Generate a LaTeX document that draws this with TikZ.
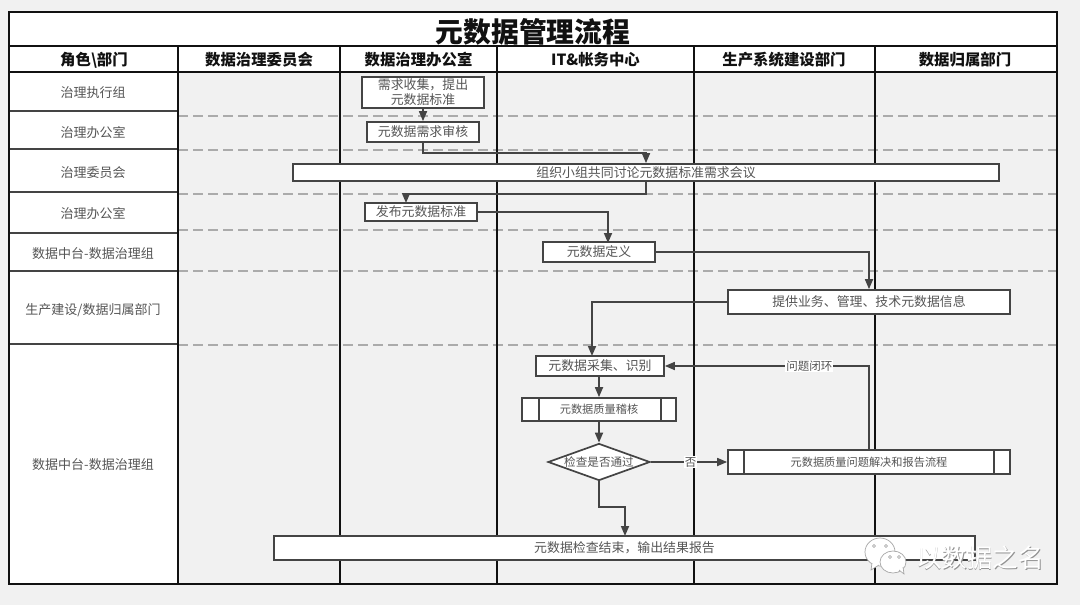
\documentclass[tikz,border=0pt]{standalone}
\usepackage{fontspec}
\setmainfont{Noto Sans CJK SC}
\usetikzlibrary{arrows.meta,shapes.geometric,calc}
\definecolor{pagebg}{HTML}{F1F1F1}
\definecolor{ink}{HTML}{111111}
\definecolor{boxline}{HTML}{444444}
\definecolor{txt}{HTML}{555555}
\definecolor{dashc}{HTML}{ABABAB}
\tikzset{
  x=1pt,y=-1pt,
  grid/.style={draw=ink,line width=1.6pt},
  laneline/.style={draw=ink,line width=2.2pt},
  rowline/.style={draw=boxline,line width=1.7pt},
  sepdash/.style={draw=dashc,line width=1.7pt,dash pattern=on 10pt off 5pt},
  head/.style={font=\fontsize{15.4}{18}\selectfont\bfseries,text=ink,inner sep=0pt},
  rolelbl/.style={font=\fontsize{13}{16}\selectfont,text=txt,inner sep=0pt},
  flowbox/.style={draw=boxline,fill=white,line width=1.7pt,inner sep=0pt,align=center,
     font=\fontsize{12.9}{15}\selectfont,text=txt},
  subbox/.style={flowbox,font=\fontsize{11.2}{14}\selectfont},
  decision/.style={flowbox,diamond,aspect=2.75,font=\fontsize{11.6}{14}\selectfont},
  conn/.style={draw=boxline,line width=1.7pt,-{Triangle[length=10pt,width=8pt]}},
  edgelbl/.style={fill=white,inner sep=1pt,font=\fontsize{11.5}{14}\selectfont,text=txt},
  innerbar/.style={draw=boxline,line width=1.7pt},
}
\begin{document}
\begin{tikzpicture}
\useasboundingbox (0,0) rectangle (1080,605);
\fill[pagebg] (0,0) rectangle (1080,605);
% title and header fills
\fill[white] (9,12) rectangle (1057,72);
\fill[white] (9,72) rectangle (178,584);
% role rows
\foreach \yy in {111,149,192,233,271,344} \draw[rowline] (9,\yy) -- (178,\yy);
% dashed row separators
\foreach \yy in {116,150,194,230,271,345} \draw[sepdash] (178,\yy) -- (1057,\yy);
% lanes
\foreach \xx in {178,340,497,694,875} \draw[laneline] (\xx,46) -- (\xx,584);
\draw[grid] (9,46) -- (1057,46);
\draw[grid] (9,72) -- (1057,72);
\draw[grid] (9,12) rectangle (1057,584);
% title
\node[inner sep=0pt,text=ink,font=\fontsize{27.8}{32}\selectfont\bfseries] (title) at (533,31.5) {元数据管理流程};
% header
\node[head] (h0) at (94,60) {角色\textbackslash 部门};
\node[head] (h1) at (259,60) {数据治理委员会};
\node[head] (h2) at (418.5,60) {数据治理办公室};
\node[head] (h3) at (595.5,60) {IT\&帐务中心};
\node[head] (h4) at (784,60) {生产系统建设部门};
\node[head] (h5) at (965,60) {数据归属部门};
% roles
\node[rolelbl] (r1) at (93,92.7) {治理执行组};
\node[rolelbl] (r2) at (93,132.2) {治理办公室};
\node[rolelbl] (r3) at (93,172.7) {治理委员会};
\node[rolelbl] (r4) at (93,213.2) {治理办公室};
\node[rolelbl] (r5) at (93,253.2) {数据中台-数据治理组};
\node[rolelbl] (r6) at (93,309.7) {生产建设/数据归属部门};
\node[rolelbl] (r7) at (93,464.7) {数据中台-数据治理组};
% boxes
\node[flowbox,minimum width=122pt,minimum height=31pt] (collect) at (423,92.5) {\fontsize{12.9}{15.5}\selectfont\raisebox{-.6pt}{需求收集，提出}\\\raisebox{-.6pt}{元数据标准}};
\node[flowbox,minimum width=112pt,minimum height=20pt] (review) at (423,132) {元数据需求审核};
\node[flowbox,minimum width=706pt,minimum height=17pt] (meeting) at (646,172.5) {组织小组共同讨论元数据标准需求会议};
\node[flowbox,minimum width=112pt,minimum height=18pt] (publish) at (421,212) {发布元数据标准};
\node[flowbox,minimum width=112pt,minimum height=20pt] (define) at (599,252) {元数据定义};
\node[flowbox,minimum width=282pt,minimum height=24pt] (provide) at (869,302) {提供业务、管理、技术元数据信息};
\node[flowbox,minimum width=128pt,minimum height=20pt] (gather) at (600,366) {元数据采集、识别};
\node[subbox,minimum width=154pt,minimum height=23pt] (audit) at (599,409.5) {元数据质量稽核};
\draw[innerbar] ($(audit.north west)+(18,0)$) -- ($(audit.south west)+(18,0)$);
\draw[innerbar] ($(audit.north east)+(-16,0)$) -- ($(audit.south east)+(-16,0)$);
\node[decision,minimum width=102pt,minimum height=37pt] (check) at (599,462) {检查是否通过};
\node[subbox,minimum width=282pt,minimum height=24pt] (solve) at (869,462) {元数据质量问题解决和报告流程};
\draw[innerbar] ($(solve.north west)+(17,0)$) -- ($(solve.south west)+(17,0)$);
\draw[innerbar] ($(solve.north east)+(-17,0)$) -- ($(solve.south east)+(-17,0)$);
\node[flowbox,minimum width=701pt,minimum height=24pt] (finish) at (624.5,548) {元数据检查结束，输出结果报告};
% connector waypoints
\coordinate (c1) at (423,153);
\coordinate (c2) at (646,194);
\coordinate (pubin) at (406,203);
\coordinate (defin) at (608,243);
\coordinate (provout) at (592,356);
\coordinate (solveup) at (869,450);
\coordinate (finin) at (625,536);
\coordinate (checkdown) at (599,507);
% connectors
\draw[conn] (collect) -- (review);
\draw[conn] (review.south) -- (c1) -| (meeting.north);
\draw[conn] (meeting.south) -- (c2) -| (pubin);
\draw[conn] (publish.east) -| (defin);
\draw[conn] (define.east) -| (provide.north);
\draw[conn] (provide.west) -| (provout);
\draw[conn] (audit.north |- gather.south) -- (audit.north);
\draw[conn] (audit.south) -- (check.north);
\draw[conn] (check.east) -- node[edgelbl,pos=.52] (nolbl) {否} (solve.west);
\draw[conn] (check.south) -- (checkdown) -| (finin);
\draw[conn] (solveup) |- node[edgelbl,pos=.646] (looplbl) {问题闭环} (gather.east);
% watermark
\begin{scope}[draw=gray!70,fill=white,line width=.7pt]
  \filldraw (880,552) ellipse [x radius=15pt,y radius=14pt];
  \filldraw (872,563) -- (871,570) -- (879,565);
  \filldraw (893,562) ellipse [x radius=13pt,y radius=11pt];
  \filldraw (899,570) -- (904,574) -- (903,567);
\end{scope}
\foreach \px/\py in {874/546,886/546,890/557,899/557} \draw[gray!80,line width=.6pt] (\px,\py) circle (1.5pt);
\node[inner sep=0pt,text=gray!85,font=\fontsize{25.6}{30}\selectfont] (wmshadow) at (980.7,558.7) {以数据之名};
\node[inner sep=0pt,text=white,font=\fontsize{25.6}{30}\selectfont] (wm) at (980,558) {以数据之名};
\end{tikzpicture}
\end{document}
